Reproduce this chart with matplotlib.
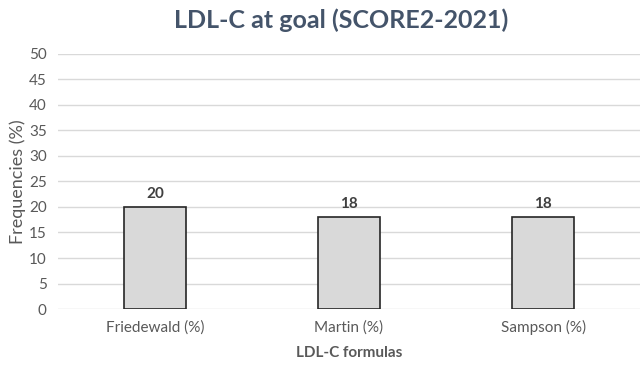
import matplotlib.pyplot as plt

categories = ['Friedewald (%)', 'Martin (%)', 'Sampson (%)']
values = [20, 18, 18]
yticks = [0, 5, 10, 15, 20, 25, 30, 35, 40, 45, 50]

plt.rcParams['font.family'] = ['Lato', 'DejaVu Sans']

fig = plt.figure(figsize=(6.44, 3.67), dpi=100)
ax = fig.add_axes([0.09, 0.158, 0.904, 0.695])

x = range(len(categories))
bars = ax.bar(x, values, width=0.32, color='#d9d9d9', edgecolor='#262626', linewidth=1.2, zorder=3)
for b, v in zip(bars, values):
    ax.text(b.get_x() + b.get_width() / 2, v + 1.2, str(v), ha='center', va='bottom',
            fontsize=11, fontweight='bold', color='#404040')

ax.set_xlim(-0.5, 2.5)
ax.set_ylim(0, 50)
ax.set_yticks(yticks)
ax.set_xticks(list(x))
ax.set_xticklabels(categories)
ax.grid(axis='y', color='#d9d9d9', linewidth=1, zorder=0)
for s in ax.spines.values():
    s.set_visible(False)
ax.tick_params(axis='both', length=0, colors='#595959', labelsize=11)
ax.tick_params(axis='x', pad=8)
ax.tick_params(axis='y', pad=8)

ax.set_ylabel('Frequencies (%)', fontsize=13, color='#595959', labelpad=2)
ax.set_xlabel('LDL-C formulas', fontsize=11, fontweight='bold', color='#595959', labelpad=8)
fig.text(0.53, 0.945, 'LDL-C at goal (SCORE2-2021)', ha='center', va='center',
         fontsize=18, fontweight='bold', color='#44546a')

plt.savefig('out.png', dpi=100)
